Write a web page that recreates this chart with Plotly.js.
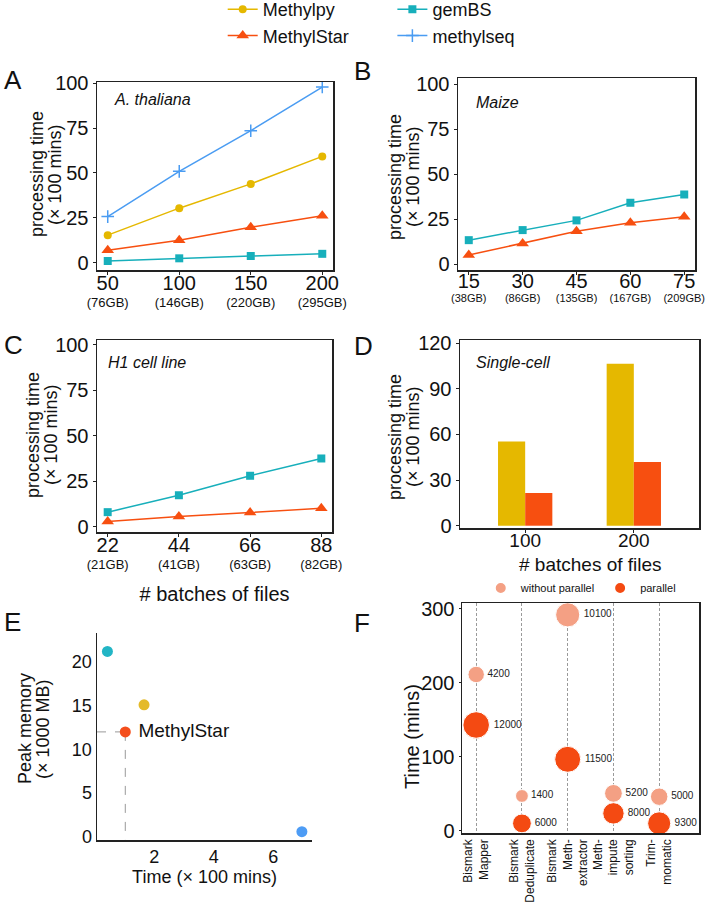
<!DOCTYPE html>
<html>
<head>
<meta charset="utf-8">
<script src="https://cdn.plot.ly/plotly-3.0.1.min.js"></script>
<style>html,body{margin:0;padding:0;background:#fff;}#chart{width:707px;height:907px;}</style>
</head>
<body>
<div id="chart"></div>
<script>
// ---------- data ----------
const aBatches = [50, 100, 150, 200];
const aSizes = ['(76GB)', '(146GB)', '(220GB)', '(295GB)'];
const aMethylpy = [15.4, 30.4, 43.9, 59.2];
const aMethylStar = [7.0, 12.6, 19.8, 26.2];
const aGemBS = [1.0, 2.5, 3.8, 5.0];
const aMethylseq = [25.7, 50.9, 73.5, 97.8];

const bBatches = [15, 30, 45, 60, 75];
const bSizes = ['(38GB)', '(86GB)', '(135GB)', '(167GB)', '(209GB)'];
const bGemBS = [13.3, 18.9, 24.3, 34.1, 38.7];
const bMethylStar = [5.0, 11.5, 18.3, 23.0, 26.3];

const cBatches = [22, 44, 66, 88];
const cSizes = ['(21GB)', '(41GB)', '(63GB)', '(82GB)'];
const cGemBS = [7.9, 17.2, 27.9, 37.4];
const cMethylStar = [2.8, 5.5, 7.7, 10.0];

const dBatches = ['100', '200'];
const dMethylpy = [55.4, 106.4];
const dMethylStar = [21.5, 41.8];

const eTools = ['gemBS', 'Methylpy', 'MethylStar', 'methylseq'];
const eTime = [0.43, 1.66, 1.03, 6.96];
const eMemory = [21.2, 15.1, 12.0, 0.6];

const fSteps = ['Bismark<br>Mapper', 'Bismark<br>Deduplicate', 'Bismark<br>Meth-<br>extractor', 'Meth-<br>impute<br>sorting', 'Trim-<br>momatic'];
const fTimeSerial = [211, 47, 291.5, 50.5, 46];
const fTimeParallel = [142.8, 10, 96.5, 23.5, 10];
const fMemSerial = [4200, 1400, 10100, 5200, 5000];
const fMemParallel = [12000, 6000, 11500, 8000, 9300];

// ---------- styles ----------
const FONT = 'Liberation Sans, Arial, Helvetica, sans-serif';
const C_PY = '#E5B800', C_STAR = '#F74F10', C_GEM = '#17AFBB', C_SEQ = '#4A9CF2';
const C_E = ['#22B5C5', '#E4BA2A', '#F44E1C', '#4D9CF5'];
const C_SER = '#F4A084', C_PAR = '#F44A12';

function tickText(nums, sizes) {
  return nums.map((n, i) => '<span style="font-size:20px">' + n + '</span><br>' + sizes[i]);
}
function fSize(v) { return 11 + 0.0013 * v; }

const boxAxis = {
  showline: true, mirror: true, linecolor: '#222', linewidth: 1.5,
  ticks: 'outside', ticklen: 3, tickcolor: '#222', showgrid: false, zeroline: false,
  tickfont: {size: 20, color: '#111'}, ticklabeloverflow: 'allow'
};
function ax(extra) { return Object.assign({}, boxAxis, extra); }

function line(x, y, name, color, sym, size, xa, ya, leg, show) {
  return {
    x: x, y: y, name: name, type: 'scatter', mode: 'lines+markers',
    xaxis: xa, yaxis: ya, legend: leg, showlegend: show,
    line: {color: color, width: 1.5},
    marker: sym === 'cross-thin'
      ? {symbol: sym, size: size, color: color, line: {color: color, width: 1.5}}
      : {symbol: sym, size: size, color: color}
  };
}

const traces = [
  // A
  line(aBatches, aMethylseq, 'methylseq', C_SEQ, 'cross-thin', 9, 'x', 'y', 'legend2', true),
  line(aBatches, aMethylpy, 'Methylpy', C_PY, 'circle', 8, 'x', 'y', 'legend', true),
  line(aBatches, aMethylStar, 'MethylStar', C_STAR, 'triangle-up', 11, 'x', 'y', 'legend', true),
  line(aBatches, aGemBS, 'gemBS', C_GEM, 'square', 8, 'x', 'y', 'legend2', true),
  // B
  line(bBatches, bGemBS, 'gemBS', C_GEM, 'square', 8, 'x2', 'y2', 'legend2', false),
  line(bBatches, bMethylStar, 'MethylStar', C_STAR, 'triangle-up', 11, 'x2', 'y2', 'legend', false),
  // C
  line(cBatches, cGemBS, 'gemBS', C_GEM, 'square', 8, 'x3', 'y3', 'legend2', false),
  line(cBatches, cMethylStar, 'MethylStar', C_STAR, 'triangle-up', 11, 'x3', 'y3', 'legend', false),
  // D
  {x: dBatches, y: dMethylpy, type: 'bar', name: 'Methylpy', marker: {color: C_PY}, xaxis: 'x4', yaxis: 'y4', showlegend: false},
  {x: dBatches, y: dMethylStar, type: 'bar', name: 'MethylStar', marker: {color: C_STAR}, xaxis: 'x4', yaxis: 'y4', showlegend: false},
  // E
  {x: eTime, y: eMemory, type: 'scatter', mode: 'markers+text', xaxis: 'x5', yaxis: 'y5', showlegend: false,
   marker: {size: 11, color: C_E},
   text: eTools.map(t => t === 'MethylStar' ? ' ' + t : ''), textposition: 'middle right',
   textfont: {size: 19, color: '#111'}, cliponaxis: false},
  // F
  {x: fSteps, y: fTimeSerial, type: 'scatter', mode: 'markers+text', name: 'without parallel',
   xaxis: 'x6', yaxis: 'y6', legend: 'legend3', showlegend: true,
   marker: {size: fMemSerial.map(fSize), color: C_SER, opacity: 1},
   text: fMemSerial.map(String), textposition: 'middle right', textfont: {size: 10, color: '#222'}, cliponaxis: false},
  {x: fSteps, y: fTimeParallel, type: 'scatter', mode: 'markers+text', name: 'parallel',
   xaxis: 'x6', yaxis: 'y6', legend: 'legend3', showlegend: true,
   marker: {size: fMemParallel.map(fSize), color: C_PAR, opacity: 1},
   text: fMemParallel.map(String), textposition: 'middle right', textfont: {size: 10, color: '#222'}, cliponaxis: false}
];

const W = 707, H = 907;
function dx(a, b) { return [a / W, b / W]; }
function dy(top, bot) { return [1 - bot / H, 1 - top / H]; }

const eRange = [0.08, 7.3];

const baseAnn = {xref: 'paper', yref: 'paper', showarrow: false};
function letter(t, x, y) { return Object.assign({}, baseAnn, {text: t, x: x / W, y: 1 - y / H, xanchor: 'left', yanchor: 'middle', font: {size: 26, color: '#111'}}); }
function label(t, x, y) { return Object.assign({}, baseAnn, {text: '<i>' + t + '</i>', x: x / W, y: 1 - y / H, xanchor: 'left', yanchor: 'middle', font: {size: 16, color: '#111'}}); }
function vtitle(lines, xc, yc, size, gap) {
  const n = lines.length;
  return lines.map((t, i) => Object.assign({}, baseAnn, {
    text: t, textangle: -90, x: (xc + (i - (n - 1) / 2) * gap) / W, y: 1 - yc / H,
    xanchor: 'center', yanchor: 'middle', font: {size: size, color: '#111'}
  }));
}
const PT = ['processing time', '(× 100 mins)'];

const layout = {
  width: W, height: H,
  margin: {l: 0, r: 0, t: 0, b: 0, autoexpand: false},
  paper_bgcolor: '#fff', plot_bgcolor: '#fff',
  font: {family: FONT, color: '#111'},
  bargap: 0.5, bargroupgap: 0, barmode: 'group',
  xaxis: ax({domain: dx(97, 333), range: [42.5, 207.5], tickvals: aBatches, ticktext: tickText(aBatches, aSizes), tickfont: {size: 13, color: '#111'}, anchor: 'y'}),
  yaxis: ax({domain: dy(82, 270), range: [-4, 100.6], tickvals: [0, 25, 50, 75, 100], anchor: 'x'}),
  xaxis2: ax({domain: dx(458, 695), range: [12, 78], tickvals: bBatches, ticktext: tickText(bBatches, bSizes), tickfont: {size: 11, color: '#111'}, anchor: 'y2'}),
  yaxis2: ax({domain: dy(78, 270), range: [-3.3, 103.5], tickvals: [0, 25, 50, 75, 100], anchor: 'x2'}),
  xaxis3: ax({domain: dx(97, 332), range: [18.7, 91.3], tickvals: cBatches, ticktext: tickText(cBatches, cSizes), tickfont: {size: 13, color: '#111'}, anchor: 'y3',
    title: {text: '# batches of files', font: {size: 20, color: '#111'}, standoff: 16}}),
  yaxis3: ax({domain: dy(340, 532), range: [-3, 102.5], tickvals: [0, 25, 50, 75, 100], anchor: 'x3'}),
  xaxis4: ax({domain: dx(460, 699), type: 'category', range: [-0.6, 1.6], anchor: 'y4', ticklabelstandoff: -8, tickfont: {size: 19, color: '#111'}}),
  yaxis4: ax({domain: dy(340, 528), range: [-1.5, 122], tickvals: [0, 30, 60, 90, 120], anchor: 'x4'}),
  xaxis5: {domain: dx(97, 312), range: eRange, tickvals: [2, 4, 6], showline: true, linecolor: '#222', linewidth: 1.5,
    showgrid: false, zeroline: false, ticks: '', tickfont: {size: 18, color: '#111'}, anchor: 'y5',
    title: {text: 'Time (× 100 mins)', font: {size: 18, color: '#111'}, standoff: 4}},
  yaxis5: {domain: dy(633, 840), range: [-0.35, 23.3], tickvals: [0, 5, 10, 15, 20], showline: true, linecolor: '#222', linewidth: 1.5,
    showgrid: false, zeroline: false, ticks: '', tickfont: {size: 18, color: '#111'}, anchor: 'x5'},
  xaxis6: ax({domain: dx(462, 699), type: 'category', range: [-0.31, 4.87], anchor: 'y6', tickangle: -90,
    tickfont: {size: 12, color: '#111'}, ticks: '', showgrid: true, gridcolor: '#9a9a9a', griddash: '3px,2px', gridwidth: 1}),
  yaxis6: ax({domain: dy(603, 833), range: [-3, 307.5], tickvals: [0, 100, 200, 300], anchor: 'x6', ticklen: 2}),
  legend: {x: 0.315, y: 1 + 9 / H, xanchor: 'left', yanchor: 'top', orientation: 'v', font: {size: 18, color: '#111'}, bgcolor: 'rgba(0,0,0,0)', tracegroupgap: 0},
  legend2: {x: 0.555, y: 1 + 9 / H, xanchor: 'left', yanchor: 'top', orientation: 'v', font: {size: 18, color: '#111'}, bgcolor: 'rgba(0,0,0,0)', traceorder: 'reversed'},
  legend3: {x: 0.68, y: 1 - 588 / H, xanchor: 'left', yanchor: 'middle', orientation: 'h', itemsizing: 'constant', font: {size: 11, color: '#111'}, bgcolor: 'rgba(0,0,0,0)'},
  shapes: [
    {type: 'line', xref: 'x5', yref: 'y5', x0: eRange[0], x1: eTime[2], y0: eMemory[2], y1: eMemory[2], line: {color: '#999', width: 1, dash: 'dash'}, layer: 'below'},
    {type: 'line', xref: 'x5', yref: 'y5', x0: eTime[2], x1: eTime[2], y0: eMemory[2], y1: -0.35, line: {color: '#999', width: 1, dash: 'dash'}, layer: 'below'}
  ],
  annotations: [
    letter('A', 2, 80), letter('B', 352, 71), letter('C', 2, 345),
    letter('D', 352, 346), letter('E', 2, 622), letter('F', 352, 623),
    label('A. thaliana', 112, 100), label('Maize', 474, 102),
    label('H1 cell line', 106, 362), label('Single-cell', 474, 362),
    Object.assign({}, baseAnn, {text: '# batches of files', x: 590 / W, y: 1 - 564 / H, xanchor: 'center', yanchor: 'middle', font: {size: 19, color: '#111'}})
  ].concat(
    vtitle(PT, 46, 174, 18, 18),
    vtitle(PT, 404, 177, 18, 18),
    vtitle(PT, 42, 435, 18, 18),
    vtitle(PT, 404, 437, 18, 18),
    vtitle(['Peak memory', '(× 1000 MB)'], 34, 729, 18, 18),
    vtitle(['Time (mins)'], 412, 737, 20, 18)
  )
};

Plotly.newPlot('chart', traces, layout, {displayModeBar: false, staticPlot: true});
</script>
</body>
</html>
